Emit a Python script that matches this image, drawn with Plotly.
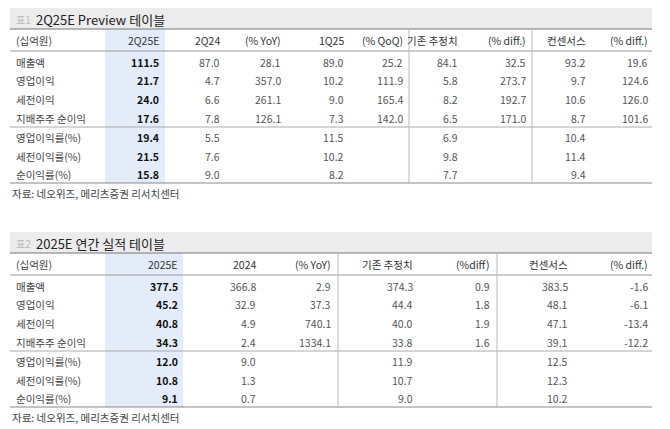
import plotly.graph_objects as go

FONT = "Noto Sans CJK KR"
row_labels = ["매출액", "영업이익", "세전이익", "지배주주 순이익", "영업이익률(%)", "세전이익률(%)", "순이익률(%)"]

t1_title = "2Q25E Preview 테이블"
t1_headers = ["2Q25E", "2Q24", "(% YoY)", "1Q25", "(% QoQ)", "기존 추정치", "(% diff.)", "컨센서스", "(% diff.)"]
t1_cols = [
    ["111.5", "21.7", "24.0", "17.6", "19.4", "21.5", "15.8"],
    ["87.0", "4.7", "6.6", "7.8", "5.5", "7.6", "9.0"],
    ["28.1", "357.0", "261.1", "126.1", "", "", ""],
    ["89.0", "10.2", "9.0", "7.3", "11.5", "10.2", "8.2"],
    ["25.2", "111.9", "165.4", "142.0", "", "", ""],
    ["84.1", "5.8", "8.2", "6.5", "6.9", "9.8", "7.7"],
    ["32.5", "273.7", "192.7", "171.0", "", "", ""],
    ["93.2", "9.7", "10.6", "8.7", "10.4", "11.4", "9.4"],
    ["19.6", "124.6", "126.0", "101.6", "", "", ""],
]

t2_title = "2025E 연간 실적 테이블"
t2_headers = ["2025E", "2024", "(% YoY)", "기존 추정치", "(%diff)", "컨센서스", "(% diff.)"]
t2_cols = [
    ["377.5", "45.2", "40.8", "34.3", "12.0", "10.8", "9.1"],
    ["366.8", "32.9", "4.9", "2.4", "9.0", "1.3", "0.7"],
    ["2.9", "37.3", "740.1", "1334.1", "", "", ""],
    ["374.3", "44.4", "40.0", "33.8", "11.9", "10.7", "9.0"],
    ["0.9", "1.8", "1.9", "1.6", "", "", ""],
    ["383.5", "48.1", "47.1", "39.1", "12.5", "12.3", "10.2"],
    ["-1.6", "-6.1", "-13.4", "-12.2", "", "", ""],
]

source = "자료: 네오위즈, 메리츠증권 리서치센터"

fig = go.Figure()
shapes, ann = [], []

def text(x, y, s, anchor="right", color="#555", size=10.5, bold=False):
    if bold:
        s = "<b>" + s + "</b>"
    ann.append(dict(x=x, y=y, text=s, xanchor=anchor, yanchor="middle", showarrow=False,
                    font=dict(family=FONT, size=size, color=color), xref="x", yref="y"))

def line(x0, y0, x1, y1, color="#999", w=1):
    shapes.append(dict(type="line", x0=x0, y0=y0, x1=x1, y1=y1, xref="x", yref="y",
                       line=dict(color=color, width=w)))

def rect(x0, y0, x1, y1, color):
    shapes.append(dict(type="rect", x0=x0, y0=y0, x1=x1, y1=y1, xref="x", yref="y",
                       fillcolor=color, line=dict(width=0), layer="below"))

def table(oy, num, title, headers, cols, col_right, hl, vlines):
    rect(10, oy + 8, 652, oy + 29, "#ececec")
    rect(hl[0], oy + 29, hl[1], oy + 183, "#e3ecf8")
    text(14, oy + 19, "표" + str(num), anchor="left", color="#bbb", size=10)
    text(34, oy + 19, title, anchor="left", color="#222", size=13)
    line(10, oy + 29, 652, oy + 29, "#777", 1.2)
    line(10, oy + 51, 652, oy + 51, "#999", 1)
    line(10, oy + 127, 652, oy + 127, "#aaa", 1)
    line(10, oy + 183, 652, oy + 183, "#888", 1)
    for vx in vlines:
        line(vx, oy + 30, vx, oy + 183, "#bbb", 1)
    text(14, oy + 40, "(십억원)", anchor="left", color="#444")
    ys = [62, 80, 99, 118, 137, 156, 174]
    for i, lab in enumerate(row_labels):
        text(14, oy + ys[i], lab, anchor="left", color="#444")
    for j, (h, col) in enumerate(zip(headers, cols)):
        text(col_right[j], oy + 40, h, color="#333")
        for i, v in enumerate(col):
            if v:
                if j == 0:
                    text(col_right[j], oy + ys[i], v, color="#111", bold=True)
                else:
                    text(col_right[j], oy + ys[i], v)
    text(10, oy + 193, source, anchor="left", color="#444")

table(0, 1, t1_title, t1_headers, t1_cols,
      [161, 222, 283, 346, 405, 460, 528, 588, 650], (105, 165), [409, 532])
table(224, 2, t2_title, t2_headers, t2_cols,
      [180, 258, 333, 415, 492, 570, 650], (105, 183), [338, 497])

fig.update_layout(width=670, height=429, margin=dict(l=0, r=0, t=0, b=0),
                  plot_bgcolor="white", paper_bgcolor="white", showlegend=False,
                  xaxis=dict(range=[0, 670], visible=False, fixedrange=True),
                  yaxis=dict(range=[429, 0], visible=False, fixedrange=True),
                  shapes=shapes, annotations=ann)
fig.write_html("out.html", config={"displayModeBar": False},
               post_script="document.body.style.margin='0';document.body.style.overflow='hidden';")
